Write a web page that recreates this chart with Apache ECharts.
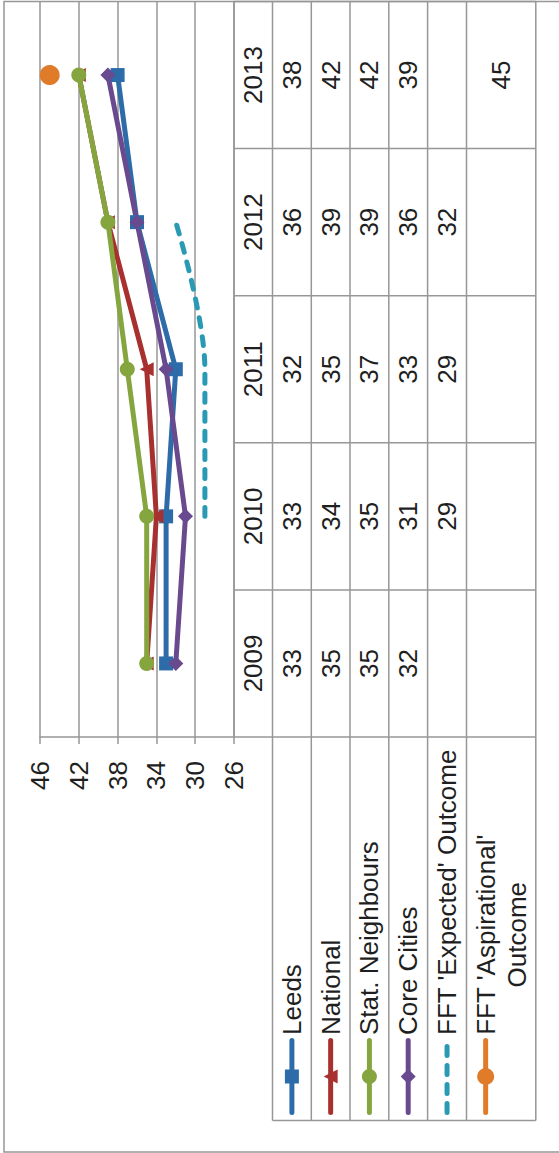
<!DOCTYPE html>
<html>
<head>
<meta charset="utf-8">
<title>Leeds outcomes 2009-2013</title>
<script src="https://cdn.jsdelivr.net/npm/echarts@6/dist/echarts.min.js"></script>
<style>
  html, body { margin: 0; padding: 0; background: #fff; overflow: hidden; }
  body { width: 559px; height: 1153px; position: relative; }
  /* the chart is laid out landscape and then turned a quarter turn anticlockwise */
  #chart {
    position: absolute;
    left: 0;
    top: 0;
    width: 1153px;
    height: 559px;
    transform-origin: 0 0;
    transform: translate(0, 1153px) rotate(-90deg);
  }
</style>
</head>
<body>
<div id="chart"></div>
<script>
  var years = ['2009', '2010', '2011', '2012', '2013'];
  var leeds = [33, 33, 32, 36, 38];
  var national = [35, 34, 35, 39, 42];
  var statNeighbours = [35, 35, 37, 39, 42];
  var coreCities = [32, 31, 33, 36, 39];
  var fftExpected = [null, 29, 29, 32, null];
  var fftAspirational = [null, null, null, null, 45];
  var seriesNames = ['Leeds', 'National', 'Stat. Neighbours', 'Core Cities',
    "FFT 'Expected' Outcome", "FFT 'Aspirational'\nOutcome"];
  var valueMin = 26, valueMax = 46, valueStep = 4;

  var seriesData = [leeds, national, statNeighbours, coreCities, fftExpected, fftAspirational];

  // looks
  var colors = ['#2d6ca8', '#a8312f', '#85a53e', '#6a4a8e', '#2a9ab4', '#e07b2a'];
  var symbols = ['rect', 'triangle', 'circle', 'diamond', 'none', 'circle'];
  var symbolSizes = [14, 14, 15, 15, 0, 20];
  var gridColor = '#979797';
  var textColor = '#1f1f1f';
  var font = "'Liberation Sans', Arial, sans-serif";
  var fontSize = 26;

  // data table layout, in the unrotated drawing
  var rowLines = [234, 272.5, 311.3, 350, 388.8, 427.6, 466.5, 535.8];
  var tableLeft = 32.5;
  var keyLineFrom = 40.5, keyLineTo = 112.5;
  var keyTextX = 118;
  var keyLineHeight = 31;

  var series = seriesNames.map(function (name, i) {
    return {
      name: name,
      type: 'line',
      data: seriesData[i],
      symbol: symbols[i],
      symbolSize: symbolSizes[i],
      itemStyle: {color: colors[i]},
      lineStyle: {color: colors[i], width: 5, join: 'round'}
    };
  });
  series[4].lineStyle.type = [9, 10];
  series[4].lineStyle.cap = 'round';
  series[4].smooth = 0.35;

  var chart = echarts.init(document.getElementById('chart'), null, {renderer: 'svg'});
  chart.setOption({
    animation: false,
    textStyle: {fontFamily: font},
    grid: {left: 416, right: 1.5, top: 40, bottom: 325},
    xAxis: {
      type: 'category',
      data: years,
      boundaryGap: true,
      axisLine: {lineStyle: {color: gridColor, width: 1.5}},
      axisTick: {show: false},
      axisLabel: {color: textColor, fontSize: fontSize, fontFamily: font, margin: 19, verticalAlign: 'middle'}
    },
    yAxis: {
      type: 'value',
      min: valueMin,
      max: valueMax,
      interval: valueStep,
      axisLine: {show: true, lineStyle: {color: gridColor, width: 1.5}},
      axisTick: {show: true, length: 7, lineStyle: {color: gridColor, width: 1.5}},
      splitLine: {lineStyle: {color: gridColor, width: 1.5}},
      axisLabel: {color: textColor, fontSize: fontSize, fontFamily: font, margin: 24}
    },
    series: series
  });

  function textWidth(str) {
    var ctx = document.createElement('canvas').getContext('2d');
    ctx.font = fontSize + 'px ' + font;
    return ctx.measureText(str).width;
  }
  function line(x1, y1, x2, y2, color, width, dash) {
    return {
      type: 'line', silent: true,
      shape: {x1: x1, y1: y1, x2: x2, y2: y2},
      style: {stroke: color, lineWidth: width, lineCap: dash ? 'round' : 'butt', lineDash: dash || null}
    };
  }
  function text(str, x, y, align) {
    return {
      type: 'text', silent: true, x: x, y: y,
      style: {
        text: str, fill: textColor, fontSize: fontSize, fontFamily: font,
        align: align, verticalAlign: 'middle', lineHeight: keyLineHeight
      }
    };
  }
  function keyMarker(kind, cx, cy, color) {
    if (kind === 'rect') {
      return {type: 'rect', silent: true, shape: {x: cx - 7, y: cy - 7, width: 14, height: 14}, style: {fill: color}};
    }
    if (kind === 'triangle') {
      return {type: 'polygon', silent: true, shape: {points: [[cx, cy - 7], [cx + 7, cy + 7], [cx - 7, cy + 7]]}, style: {fill: color}};
    }
    if (kind === 'diamond') {
      return {type: 'polygon', silent: true, shape: {points: [[cx, cy - 7.5], [cx + 7.5, cy], [cx, cy + 7.5], [cx - 7.5, cy]]}, style: {fill: color}};
    }
    return {type: 'circle', silent: true, shape: {cx: cx, cy: cy, r: kind === 'big' ? 8.5 : 7.5}, style: {fill: color}};
  }

  // column positions come from the category axis
  var centers = years.map(function (y) { return chart.convertToPixel({xAxisIndex: 0}, y); });
  var band = centers[1] - centers[0];
  var colEdges = centers.map(function (c) { return c - band / 2; });
  colEdges.push(centers[centers.length - 1] + band / 2);
  var plotRight = colEdges[colEdges.length - 1];
  var tableBottom = rowLines[rowLines.length - 1];

  var elements = [];
  // chart frame (its far edge is off the page)
  elements.push({
    type: 'rect', silent: true,
    shape: {x: 1, y: 4, width: plotRight - 1, height: 800},
    style: {fill: 'none', stroke: gridColor, lineWidth: 1.5}
  });
  rowLines.slice(1).forEach(function (y) {
    elements.push(line(tableLeft, y, plotRight, y, gridColor, 1.5));
  });
  colEdges.forEach(function (x) {
    elements.push(line(x, rowLines[0], x, tableBottom, gridColor, 1.5));
  });
  elements.push(line(tableLeft, rowLines[1], tableLeft, tableBottom, gridColor, 1.5));

  seriesData.forEach(function (values, r) {
    var cy = (rowLines[r + 1] + rowLines[r + 2]) / 2;
    values.forEach(function (v, c) {
      if (v == null) return;
      elements.push(text(String(v), centers[c], cy, 'center'));
    });

    // legend key in the first column
    var lines = seriesNames[r].split('\n');
    var keyY = cy - (lines.length - 1) * keyLineHeight / 2;
    var keyX = (keyLineFrom + keyLineTo) / 2;
    elements.push(line(keyLineFrom, keyY, keyLineTo, keyY, colors[r], 5, r === 4 ? [9, 10] : [0.01, 0]));
    if (symbols[r] !== 'none') {
      elements.push(keyMarker(r === 5 ? 'big' : symbols[r], keyX, keyY, colors[r]));
    }
    if (lines.length > 1) {
      var w = Math.max.apply(null, lines.map(textWidth));
      elements.push(text(seriesNames[r], keyTextX + w / 2, cy, 'center'));
    } else {
      elements.push(text(seriesNames[r], keyTextX, cy, 'left'));
    }
  });

  chart.setOption({graphic: {elements: elements}});
</script>
</body>
</html>
